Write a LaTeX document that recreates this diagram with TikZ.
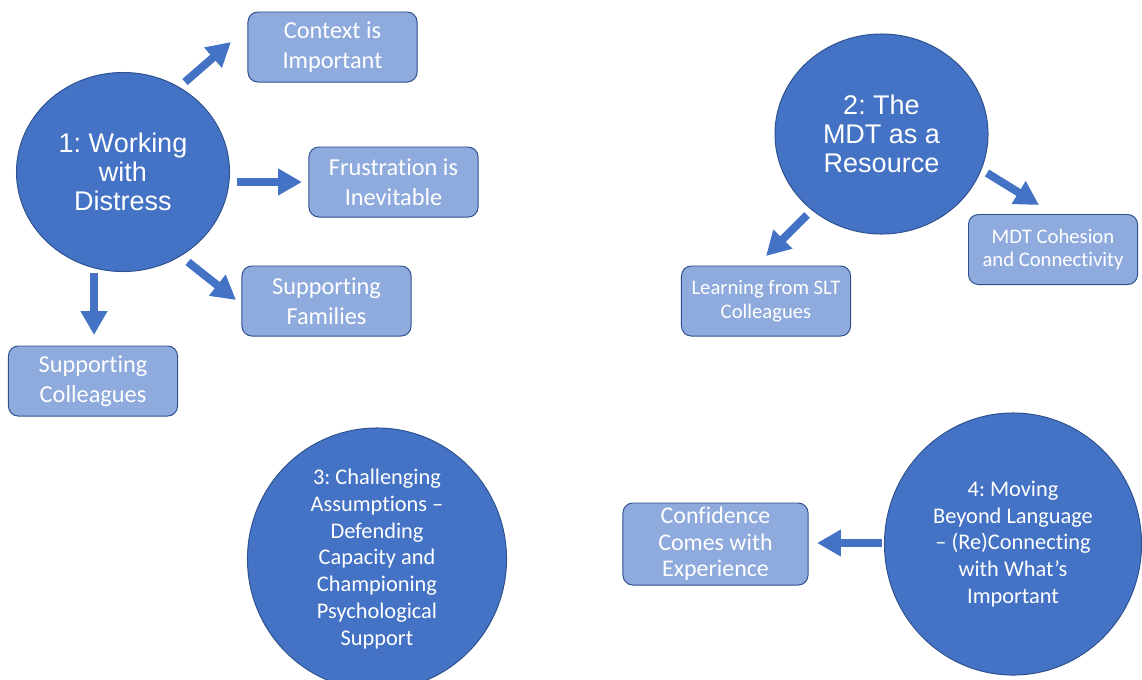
\documentclass[tikz,border=0pt]{standalone}
\usepackage{fontspec}
\setmainfont[RawFeature={-liga;-clig;-calt}]{Carlito}
\newfontfamily\arialfont{Liberation Sans}
\usepackage{xcolor}
\usetikzlibrary{shapes.geometric}
\usetikzlibrary{arrows.meta}
\definecolor{themefill}{HTML}{4472C4}
\definecolor{themeline}{HTML}{2F528F}
\definecolor{boxfill}{HTML}{8FAADC}
\definecolor{boxline}{HTML}{2F528F}
\frenchspacing
\newcommand{\boxfont}{\fontsize{17.3}{21.3}\selectfont}
\newcommand{\smallboxfont}{\fontsize{14.7}{17}\selectfont}
\newcommand{\bigfont}{\arialfont\fontsize{19.2}{20.6}\selectfont}
\newcommand{\longfont}{\fontsize{15.9}{19}\selectfont}

\begin{document}
\begin{tikzpicture}[x=0.025cm,y=-0.025cm,
	theme/.style={ellipse,draw=themeline,fill=themefill,line width=0.7pt,text=white,align=center,inner sep=-12pt},
	subbox/.style={rectangle,rounded corners=7pt,draw=boxline,fill=boxfill,line width=0.7pt,text=white,align=center,inner sep=0pt,minimum width=4.225cm,minimum height=1.75cm},
	blockarrow/.style={draw=themefill,line width=5.7pt,-{Triangle[length=17pt,width=18pt]}}]
		\useasboundingbox (0,0) rectangle (1142,679);
		\clip (0,0) rectangle (1142,679);

		% theme 1
		\node[theme,minimum width=5.325cm,minimum height=4.975cm,font=\bigfont] (work) at (123,172) {1: Working\\with\\Distress};
		\node[subbox,font=\boxfont] (context) at (332.5,47) {Context is\\Important};
		\node[subbox,font=\boxfont] (frust) at (393.5,182) {Frustration is\\Inevitable};
		\node[subbox,font=\boxfont] (families) at (326.5,301) {Supporting\\Families};
		\node[subbox,font=\boxfont] (colleagues) at (93,381) {Supporting\\Colleagues};

		% theme 2
		\node[theme,minimum width=5.325cm,minimum height=5cm,font=\bigfont] (mdt) at (881.5,134) {2: The\\MDT as a\\Resource};
		\node[subbox,font=\smallboxfont] (cohesion) at (1053,249.5) {MDT Cohesion\\and Connectivity};
		\node[subbox,font=\smallboxfont] (slt) at (766,301) {Learning from SLT\\Colleagues};

		% theme 3
		\node[theme,minimum width=6.475cm,minimum height=6.55cm,font=\longfont] (assume) at (377,559) {3: Challenging\\Assumptions --\\Defending\\Capacity and\\Championing\\Psychological\\Support};

		% theme 4
		\node[theme,minimum width=6.425cm,minimum height=6.55cm,font=\longfont] (beyond) at (1013,544) {4: Moving\\Beyond Language\\-- (Re)Connecting\\with What’s\\Important};
		\node[subbox,minimum width=4.625cm,minimum height=2.05cm,font=\fontsize{17}{18.9}\selectfont] (confid) at (715.5,544) {Confidence\\Comes with\\Experience};

		% arrows
		\coordinate (a1s) at (185,82);
		\coordinate (a1e) at (231,42);
		\coordinate (a2s) at (237,182);
		\coordinate (a2e) at (302,182);
		\coordinate (a3s) at (188,262);
		\coordinate (a3e) at (236,300);
		\coordinate (a4s) at (94,273);
		\coordinate (a4e) at (94,335);
		\coordinate (b1s) at (987,173);
		\coordinate (b1e) at (1039,205);
		\coordinate (b2s) at (807,215);
		\coordinate (b2e) at (766,256);
		\coordinate (d1s) at (882,543);
		\coordinate (d1e) at (817,543);
		\draw[blockarrow] (a1s) -- (a1e);
		\draw[blockarrow] (a2s) -- (a2e);
		\draw[blockarrow] (a3s) -- (a3e);
		\draw[blockarrow] (a4s) -- (a4e);
		\draw[blockarrow] (b1s) -- (b1e);
		\draw[blockarrow] (b2s) -- (b2e);
		\draw[blockarrow] (d1s) -- (d1e);
\end{tikzpicture}
\end{document}
